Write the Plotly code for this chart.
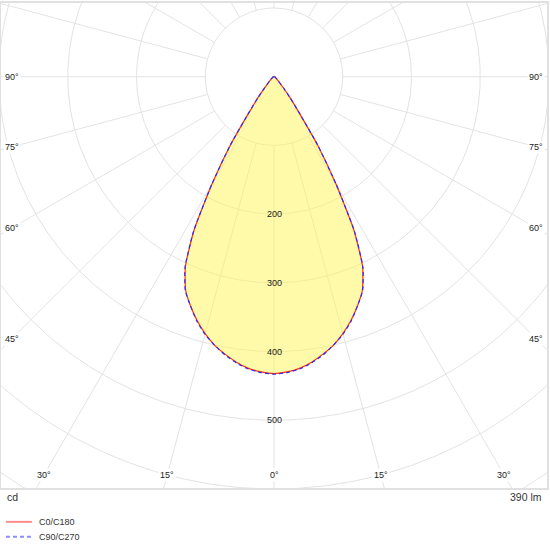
import numpy as np
import plotly.graph_objects as go

# luminous intensity (cd) vs gamma angle (deg)
gamma = [0, 2.5, 5, 7.5, 10, 12.5, 15, 17.5, 20, 22.5, 25, 27.5, 30, 32.5, 35,
         37.5, 40, 42.5, 45, 50, 55, 60, 65, 70, 75, 80, 85, 90]
c0_c180 = [432, 430, 426, 419, 410, 400, 387, 372, 355, 336, 305, 252, 180, 118, 62,
           38, 22, 14, 9, 5.5, 3.5, 2.5, 2, 1.5, 1, 0.5, 0.2, 0]
c90_c270 = [433, 431, 427, 420, 411, 400, 388, 373, 355, 337, 306, 253, 181, 119, 63,
            38, 22, 14, 9, 5.5, 3.5, 2.5, 2, 1.5, 1, 0.5, 0.2, 0]

rings = [100, 200, 300, 400, 500, 600, 700]
ring_labels = [200, 300, 400, 500]
left_angles = [90, 75, 60, 45]
bottom_angles = [-30, -15, 0, 15, 30]
right_angles = [45, 60, 75, 90]
legend_names = ["C0/C180", "C90/C270"]
flux_text = "390 lm"
unit_text = "cd"

# pixel geometry of the frame
W, H = 550, 550
ml, mr, mt, mb = 1, 1, 1, 62
pw, ph = W - ml - mr, H - mt - mb
cx_px, cy_px = 275 - ml, 75 - mt     # pole position inside the plot area
k = 0.69                             # px per cd
xr = [-cx_px / k, (pw - cx_px) / k]
yr = [-(ph - cy_px) / k, cy_px / k]


def px(x):
    return (x - ml) / pw


def py(y):
    return (H - mb - y) / ph


grid = "#e3e3e3"
fig = go.Figure()

# rings
t = np.linspace(0, 2 * np.pi, 721)
for r in rings:
    fig.add_trace(go.Scatter(x=r * np.sin(t), y=r * np.cos(t), mode="lines",
                             line=dict(color=grid, width=1), hoverinfo="skip", showlegend=False))
# spokes every 15 deg, from the first ring outwards
for a in range(0, 360, 15):
    ar = np.radians(a)
    fig.add_trace(go.Scatter(x=[100 * np.sin(ar), 900 * np.sin(ar)],
                             y=[-100 * np.cos(ar), -900 * np.cos(ar)], mode="lines",
                             line=dict(color=grid, width=1), hoverinfo="skip", showlegend=False))


def curve(vals):
    g = np.radians(np.array(gamma))
    v = np.array(vals, dtype=float)
    # left half (C180 / C270) then right half (C0 / C90)
    x = np.concatenate([-(v * np.sin(g))[::-1], (v * np.sin(g))[1:]])
    y = np.concatenate([-(v * np.cos(g))[::-1], -(v * np.cos(g))[1:]])
    return x, y


x0, y0 = curve(c0_c180)
x9, y9 = curve(c90_c270)
sm = 0.5

fig.add_trace(go.Scatter(x=x0, y=y0, mode="lines", fill="toself",
                         fillcolor="rgba(255,243,85,0.5)", line=dict(width=0, shape="spline", smoothing=sm),
                         hoverinfo="skip", showlegend=False))
fig.add_trace(go.Scatter(x=x0, y=y0, mode="lines",
                         line=dict(color="#ff3300", width=1.2, shape="spline", smoothing=sm),
                         hoverinfo="skip", showlegend=False))
fig.add_trace(go.Scatter(x=x9, y=y9, mode="lines",
                         line=dict(color="#2a2aff", width=1.2, dash="4px,3px", shape="spline", smoothing=sm),
                         hoverinfo="skip", showlegend=False))

lab_font = dict(family="Liberation Sans, Arial", size=9, color="#222")
ann = []
for r in ring_labels:
    ann.append(dict(x=0, y=-r, text=str(r), showarrow=False, font=lab_font))

inset_x = (cx_px - 11) / k
inset_y = (ph - cy_px - 13) / k
for a in left_angles:
    ar = np.radians(a)
    ann.append(dict(x=-inset_x, y=-inset_x / np.tan(ar) if a < 90 else 0, text=f"{a}°",
                    showarrow=False, font=lab_font, bgcolor="white"))
for a in right_angles:
    ar = np.radians(a)
    ann.append(dict(x=inset_x, y=-inset_x / np.tan(ar) if a < 90 else 0, text=f"{a}°",
                    showarrow=False, font=lab_font, bgcolor="white"))
for a in bottom_angles:
    ann.append(dict(x=inset_y * np.tan(np.radians(a)), y=-inset_y, text=f"{abs(a)}°",
                    showarrow=False, font=lab_font, bgcolor="white"))

big_font = dict(family="Liberation Sans, Arial", size=10.5, color="#333")
ann.append(dict(xref="paper", yref="paper", x=px(5), y=py(497), xanchor="left", yanchor="middle",
                text=unit_text, showarrow=False, font=big_font))
ann.append(dict(xref="paper", yref="paper", x=px(546), y=py(497), xanchor="right", yanchor="middle",
                text=flux_text, showarrow=False, font=big_font))

# hand-drawn legend
leg_font = dict(family="Liberation Sans, Arial", size=9, color="#333")
shapes = []
for name, ly, col, dash in zip(legend_names, [522, 537], ["#ff8c8c", "#8c8cff"], ["solid", "4px,3px"]):
    shapes.append(dict(type="line", xref="paper", yref="paper", x0=px(6), x1=px(32), y0=py(ly), y1=py(ly),
                       line=dict(color=col, width=2, dash=dash)))
    ann.append(dict(xref="paper", yref="paper", x=px(37), y=py(ly), xanchor="left", yanchor="middle",
                    text=name, showarrow=False, font=leg_font))

fig.update_layout(
    width=W, height=H,
    margin=dict(l=ml, r=mr, t=mt, b=mb),
    paper_bgcolor="white", plot_bgcolor="white",
    annotations=ann, shapes=shapes,
    showlegend=False,
)
fig.update_xaxes(range=xr, showgrid=False, zeroline=False, showticklabels=False,
                 showline=True, mirror=True, linecolor="#e0e0e0", linewidth=2, fixedrange=True)
fig.update_yaxes(range=yr, showgrid=False, zeroline=False, showticklabels=False,
                 showline=True, mirror=True, linecolor="#e0e0e0", linewidth=2, fixedrange=True)

fig.write_html("out.html", config={"displayModeBar": False},
               post_script="document.body.style.margin='0';")
